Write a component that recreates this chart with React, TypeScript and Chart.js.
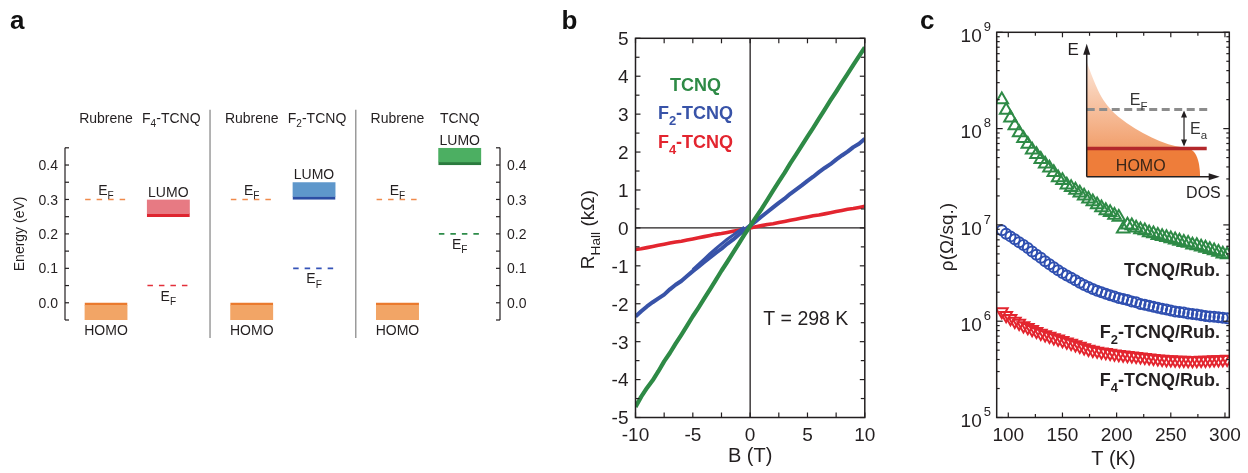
import React, { useEffect, useRef } from 'react';
import { Chart, registerables } from 'chart.js';

Chart.register(...registerables);

const W = 1248;
const H = 473;
const FONT = '"Liberation Sans", Arial, Helvetica, sans-serif';
const INK = '#231f20';
const GREEN = '#2e8a46';
const BLUE = '#3853a8';
const RED = '#e3252f';

/* a: level alignment at the rubrene / acceptor interfaces (eV) */
const acceptors = ['F4-TCNQ', 'F2-TCNQ', 'TCNQ'];
const homoLevel = [0, 0, 0];
const rubreneFermi = [0.3, 0.3, 0.3];
const lumoLevel = [0.25, 0.3, 0.4];
const acceptorFermi = [0.05, 0.1, 0.2];
const energyTicks = [0, 0.1, 0.2, 0.3, 0.4];

/* b: Hall resistance (kOhm) against field (T) at 298 K */
const fieldB = [-10, -9.5, -9, -8.5, -8, -7.5, -7, -6.5, -6, -5.5, -5, -4.5, -4, -3.5, -3, -2.5, -2, -1.5, -1, -0.5, 0,
  0.5, 1, 1.5, 2, 2.5, 3, 3.5, 4, 4.5, 5, 5.5, 6, 6.5, 7, 7.5, 8, 8.5, 9, 9.5, 10];
const hallTCNQ = [-4.72, -4.45, -4.22, -4.02, -3.78, -3.52, -3.3, -3.05, -2.82, -2.58, -2.33, -2.1, -1.86, -1.62, -1.38,
  -1.13, -0.9, -0.66, -0.42, -0.18, 0.05, 0.28, 0.5, 0.74, 0.98, 1.22, 1.45, 1.7, 1.93, 2.17, 2.41, 2.64, 2.88, 3.12,
  3.36, 3.59, 3.83, 4.06, 4.3, 4.53, 4.76];
const hallF2 = [-2.34, -2.2, -2.07, -1.96, -1.86, -1.76, -1.62, -1.5, -1.4, -1.27, -1.14, -1.02, -0.9, -0.78, -0.66,
  -0.55, -0.42, -0.31, -0.18, -0.06, 0.06, 0.18, 0.3, 0.42, 0.54, 0.66, 0.77, 0.9, 1.01, 1.12, 1.24, 1.35, 1.47, 1.58,
  1.68, 1.8, 1.91, 2.01, 2.13, 2.22, 2.35];
const hallF4 = [-0.57, -0.55, -0.52, -0.49, -0.46, -0.43, -0.4, -0.37, -0.35, -0.32, -0.29, -0.26, -0.23, -0.2, -0.17,
  -0.15, -0.12, -0.09, -0.06, -0.03, 0, 0.03, 0.06, 0.09, 0.11, 0.14, 0.17, 0.2, 0.23, 0.26, 0.29, 0.32, 0.34, 0.37,
  0.4, 0.43, 0.46, 0.49, 0.51, 0.54, 0.57];
// second sweep of the F2-TCNQ sample, where it separates from the first one
const fieldBReturn = [-5, -4.5, -4, -3.5, -3, -2.5, -2, -1.5, -1, -0.5];
const hallF2Return = [-1.1, -0.96, -0.82, -0.68, -0.55, -0.42, -0.3, -0.19, -0.08, 0.02];
const fieldTicks = [-10, -5, 0, 5, 10];
const hallTicks = [5, 4, 3, 2, 1, 0, -1, -2, -3, -4, -5];

/* c: sheet resistivity (Ohm/sq.) against temperature (K) */
const temperature = [94, 98, 102, 106, 110, 114, 118, 122, 126, 130, 134, 138, 142, 146, 150, 154, 158, 162, 166, 170,
  174, 178, 182, 186, 190, 194, 198, 202, 206, 210, 214, 218, 222, 226, 230, 234, 238, 242, 246, 250, 254, 258, 262,
  266, 270, 274, 278, 282, 286, 290, 294, 298, 302];
const rhoTCNQ = [2.0e8, 1.55e8, 1.29e8, 1.07e8, 9.1e7, 7.9e7, 6.9e7, 6.0e7, 5.4e7, 4.8e7, 4.3e7, 3.9e7, 3.5e7, 3.1e7,
  2.9e7, 2.6e7, 2.45e7, 2.3e7, 2.15e7, 2.0e7, 1.86e7, 1.74e7, 1.62e7, 1.51e7, 1.41e7, 1.35e7, 1.26e7, 1.2e7, 9.1e6,
  1.0e7, 9.8e6, 9.3e6, 8.9e6, 8.7e6, 8.3e6, 8.1e6, 7.8e6, 7.6e6, 7.4e6, 7.2e6, 7.0e6, 6.8e6, 6.6e6, 6.45e6, 6.2e6,
  6.1e6, 5.9e6, 5.75e6, 5.55e6, 5.4e6, 5.2e6, 5.0e6, 4.9e6];
const rhoF2 = [8.8e6, 8.1e6, 7.6e6, 7.1e6, 6.6e6, 6.2e6, 5.75e6, 5.3e6, 4.9e6, 4.57e6, 4.2e6, 3.9e6, 3.63e6, 3.39e6,
  3.16e6, 2.99e6, 2.82e6, 2.66e6, 2.51e6, 2.37e6, 2.26e6, 2.16e6, 2.07e6, 2.0e6, 1.93e6, 1.86e6, 1.8e6, 1.74e6, 1.7e6,
  1.66e6, 1.6e6, 1.57e6, 1.51e6, 1.48e6, 1.45e6, 1.41e6, 1.38e6, 1.35e6, 1.32e6, 1.29e6, 1.26e6, 1.245e6, 1.23e6,
  1.2e6, 1.19e6, 1.175e6, 1.15e6, 1.135e6, 1.12e6, 1.11e6, 1.1e6, 1.085e6, 1.07e6];
const rhoF4 = [1.26e6, 1.15e6, 1.07e6, 1.0e6, 9.55e5, 9.0e5, 8.6e5, 8.2e5, 7.85e5, 7.5e5, 7.25e5, 7.0e5, 6.75e5, 6.55e5,
  6.3e5, 6.1e5, 5.9e5, 5.7e5, 5.5e5, 5.3e5, 5.13e5, 5.0e5, 4.9e5, 4.79e5, 4.73e5, 4.66e5, 4.57e5, 4.52e5, 4.47e5,
  4.42e5, 4.37e5, 4.32e5, 4.27e5, 4.22e5, 4.17e5, 4.12e5, 4.07e5, 4.03e5, 3.98e5, 3.98e5, 3.95e5, 3.94e5, 3.94e5,
  3.91e5, 3.91e5, 3.91e5, 3.94e5, 3.94e5, 3.95e5, 3.98e5, 3.98e5, 4.0e5, 4.03e5];
const tempTicks = [100, 150, 200, 250, 300];
const rhoDecades = [5, 6, 7, 8, 9];

/* ---------- drawing helpers ---------- */
type Seg = [string, string?];

function rich(ctx: CanvasRenderingContext2D, segs: Seg[], x: number, y: number, size: number,
  align: string = 'center', weight: string = 'normal', color: string = INK) {
  const fontFor = (m?: string) => `${weight} ${m === 'sub' || m === 'sup' ? size * 0.72 : size}px ${FONT}`;
  let total = 0;
  const widths = segs.map(([t, m]) => {
    ctx.font = fontFor(m);
    const w = ctx.measureText(t).width;
    total += w;
    return w;
  });
  let cx = align === 'left' ? x : align === 'right' ? x - total : x - total / 2;
  const base = y + size * 0.36;
  ctx.fillStyle = color;
  ctx.textAlign = 'left';
  ctx.textBaseline = 'alphabetic';
  segs.forEach(([t, m], i) => {
    ctx.font = fontFor(m);
    const dy = m === 'sub' ? size * 0.3 : m === 'sup' ? -size * 0.42 : 0;
    ctx.fillText(t, cx, base + dy);
    cx += widths[i];
  });
}

const text = (ctx: CanvasRenderingContext2D, s: string, x: number, y: number, size: number,
  align = 'center', weight = 'normal', color = INK) => rich(ctx, [[s]], x, y, size, align, weight, color);

// "F4-TCNQ" -> F, subscript 4, -TCNQ
const chem = (name: string): Seg[] => {
  const m = name.match(/^F(\d)(.*)$/);
  return m ? [['F'], [m[1], 'sub'], [m[2]]] : [[name]];
};

function seg(ctx: CanvasRenderingContext2D, x1: number, y1: number, x2: number, y2: number) {
  ctx.beginPath();
  ctx.moveTo(x1, y1);
  ctx.lineTo(x2, y2);
  ctx.stroke();
}

function rotated(ctx: CanvasRenderingContext2D, x: number, y: number, draw: () => void) {
  ctx.save();
  ctx.translate(x, y);
  ctx.rotate(-Math.PI / 2);
  draw();
  ctx.restore();
}

function panelLetter(ctx: CanvasRenderingContext2D, s: string, x: number, y: number) {
  ctx.font = `bold 26px ${FONT}`;
  ctx.fillStyle = '#111';
  ctx.textAlign = 'left';
  ctx.textBaseline = 'alphabetic';
  ctx.fillText(s, x, y);
}

const baseOptions = (padding: any) => ({
  responsive: false,
  animation: false,
  devicePixelRatio: 1,
  events: [],
  layout: { padding },
  plugins: { legend: { display: false }, tooltip: { enabled: false }, title: { display: false } },
});

/* ---------- a: energy-level diagram ---------- */
const SPACING = 3.35; // one rubrene / acceptor pair on the x scale
const RUB = 0.943;
const ACC = 2.375;
const HALF = 0.48;
const BOX = 0.05;
const rubX = (i: number) => i * SPACING + RUB;
const accX = (i: number) => i * SPACING + ACC;
const lumoFill = ['#e77a83', '#5e97cb', '#4caf62'];
const lumoEdge = ['#de2530', '#2b4da4', '#2a7a3e'];
const fermiColor = ['#e3303b', '#3553b8', '#2e8c4a'];

const levelsDecor = {
  id: 'levelsDecor',
  afterDraw(chart: any) {
    const { ctx, chartArea: ca, scales } = chart;
    const px = (v: number) => scales.x.getPixelForValue(v);
    const py = (v: number) => scales.y.getPixelForValue(v);
    const top = py(0.45);
    const bot = py(-0.05);
    ctx.save();
    ctx.strokeStyle = INK;
    ctx.lineWidth = 1.2;
    [ca.left, ca.right].forEach((ax: number, side: number) => {
      seg(ctx, ax, top, ax, bot);
      const dir = side === 0 ? 1 : -1;
      for (let k = -1; k <= 9; k++) {
        const yy = py(k * 0.05);
        seg(ctx, ax, yy, ax + dir * 4, yy);
      }
    });
    energyTicks.forEach((v) => {
      text(ctx, v.toFixed(1), ca.left - 7, py(v), 14, 'right');
      text(ctx, v.toFixed(1), ca.right + 7, py(v), 14, 'left');
    });
    rotated(ctx, 19, (top + bot) / 2, () => text(ctx, 'Energy (eV)', 0, 0, 14));

    ctx.strokeStyle = '#9b9b9b';
    ctx.lineWidth = 1.5;
    for (let i = 1; i < acceptors.length; i++) {
      const sx = px((accX(i - 1) + rubX(i)) / 2);
      seg(ctx, sx, top - 38, sx, bot + 18);
    }

    acceptors.forEach((name, i) => {
      const rx = px(rubX(i));
      const ax = px(accX(i));
      text(ctx, 'Rubrene', rx, top - 30, 14);
      rich(ctx, chem(name), ax + (name.startsWith('F') ? 3 : 0), top - 30, 14);
      rich(ctx, [['E'], ['F', 'sub']], rx, py(rubreneFermi[i]) - 10, 14);
      text(ctx, 'HOMO', rx, py(homoLevel[i] - BOX) + 10, 14);
      text(ctx, 'LUMO', ax, py(lumoLevel[i] + BOX) - 8, 14);
      rich(ctx, [['E'], ['F', 'sub']], ax, py(acceptorFermi[i]) + 10, 14);
    });
    panelLetter(ctx, 'a', 10, 29);
    ctx.restore();
  },
};

function levelsConfig() {
  const dash = (x: number, y: number, color: string) => ({
    type: 'line',
    data: [{ x: x - HALF, y }, { x: x + HALF, y }],
    borderColor: color,
    borderWidth: 1.6,
    borderDash: [5.5, 6],
    pointRadius: 0,
  });
  return {
    type: 'bar',
    data: {
      datasets: [
        {
          type: 'bar',
          data: homoLevel.map((e, i) => ({ x: rubX(i), y: [e - BOX, e] })),
          backgroundColor: '#f2a566',
          borderColor: '#ea7a2e',
          borderWidth: { top: 2.5, right: 0, bottom: 0, left: 0 },
          borderSkipped: false,
          barThickness: 43,
          grouped: false,
        },
        {
          type: 'bar',
          data: lumoLevel.map((e, i) => ({ x: accX(i), y: [e, e + BOX] })),
          backgroundColor: lumoFill,
          borderColor: lumoEdge,
          borderWidth: { top: 0, right: 0, bottom: 3, left: 0 },
          borderSkipped: false,
          barThickness: 43,
          grouped: false,
        },
        ...rubreneFermi.map((e, i) => dash(rubX(i), e, '#f08a4b')),
        ...acceptorFermi.map((e, i) => dash(accX(i), e, fermiColor[i])),
      ],
    },
    options: {
      ...baseOptions({ left: 65, right: 748, top: 147.8, bottom: 153 }),
      scales: {
        x: { type: 'linear', min: 0, max: 10, display: false, offset: false },
        y: { type: 'linear', min: -0.05, max: 0.45, display: false },
      },
    },
    plugins: [levelsDecor],
  };
}

/* ---------- b: Hall resistance ---------- */
const hallDecor = {
  id: 'hallDecor',
  beforeDatasetsDraw(chart: any) {
    const { ctx, chartArea: ca, scales } = chart;
    const x0 = scales.x.getPixelForValue(0);
    const y0 = scales.y.getPixelForValue(0);
    ctx.save();
    ctx.strokeStyle = INK;
    ctx.lineWidth = 1.3;
    seg(ctx, x0, ca.top, x0, ca.bottom);
    seg(ctx, ca.left, y0, ca.right, y0);
    ctx.restore();
  },
  afterDraw(chart: any) {
    const { ctx, chartArea: ca, scales } = chart;
    const px = (v: number) => scales.x.getPixelForValue(v);
    const py = (v: number) => scales.y.getPixelForValue(v);
    ctx.save();
    ctx.strokeStyle = INK;
    ctx.lineWidth = 1.5;
    ctx.strokeRect(ca.left, ca.top, ca.width, ca.height);
    ctx.lineWidth = 1.2;
    for (let k = -10; k <= 10; k++) {
      const yy = py(k / 2);
      const len = k % 2 === 0 ? 5 : 4;
      seg(ctx, ca.left, yy, ca.left + len, yy);
      seg(ctx, ca.right, yy, ca.right - len, yy);
    }
    for (let k = -4; k <= 4; k++) {
      const xx = px(k * 2.5);
      seg(ctx, xx, ca.top, xx, ca.top + 5);
      seg(ctx, xx, ca.bottom, xx, ca.bottom - 5);
    }
    hallTicks.forEach((v) => text(ctx, String(v), ca.left - 7, py(v), 19, 'right'));
    fieldTicks.forEach((v) => text(ctx, String(v), px(v), ca.bottom + 17, 19));
    text(ctx, 'B (T)', px(0), 455, 20);
    rotated(ctx, 587.5, 229.7, () => rich(ctx, [['R'], ['Hall', 'sub'], [' (kΩ)']], 0, 0, 19));

    const legend: [string, string, number][] = [
      [acceptors[2], GREEN, 85],
      [acceptors[1], BLUE, 113],
      [acceptors[0], RED, 141.7],
    ];
    legend.forEach(([name, color, yy]) => rich(ctx, chem(name), 695.5, yy, 18, 'center', 'bold', color));
    text(ctx, 'T = 298 K', 805.8, 318.3, 19.5);
    panelLetter(ctx, 'b', 561.5, 29);
    ctx.restore();
  },
};

function hallConfig() {
  const line = (xs: number[], ys: number[], color: string, width: number, order: number) => ({
    data: xs.map((b, i) => ({ x: b, y: ys[i] })),
    borderColor: color,
    borderWidth: width,
    pointRadius: 0,
    tension: 0,
    borderJoinStyle: 'round',
    clip: 0,
    order,
  });
  return {
    type: 'line',
    data: {
      datasets: [
        line(fieldB, hallTCNQ, GREEN, 4.2, 0),
        line(fieldB, hallF2, BLUE, 4, 1),
        line(fieldBReturn, hallF2Return, BLUE, 3, 1),
        line(fieldB, hallF4, RED, 3.6, 2),
      ],
    },
    options: {
      ...baseOptions({ left: 635.5, right: 383.2, top: 38.3, bottom: 55.5 }),
      scales: {
        x: { type: 'linear', min: -10, max: 10, display: false },
        y: { type: 'linear', min: -5, max: 5, display: false },
      },
    },
    plugins: [hallDecor],
  };
}

/* ---------- c: resistivity with inset DOS sketch ---------- */
function drawInset(ctx: CanvasRenderingContext2D, ca: any) {
  const ox = ca.left + 0.387 * ca.width;
  const oy = ca.top + 0.375 * ca.height;
  const L = 133;
  const X = (u: number) => ox + u;
  const Y = (v: number) => oy - v;
  const homo = 28.3;
  const fermi = 67.3;
  const tail = [[0, 115], [10, 86.7], [23.3, 66.7], [40, 53.3], [56.7, 43.3], [73.3, 35], [90, 30], [104, 28.3]];

  const g = ctx.createLinearGradient(0, Y(115), 0, Y(homo));
  g.addColorStop(0, '#fde6d8');
  g.addColorStop(1, '#f19f6c');
  ctx.beginPath();
  ctx.moveTo(X(0), Y(homo));
  ctx.lineTo(X(tail[0][0]), Y(tail[0][1]));
  for (let i = 1; i < tail.length - 1; i++) {
    const mx = (tail[i][0] + tail[i + 1][0]) / 2;
    const my = (tail[i][1] + tail[i + 1][1]) / 2;
    ctx.quadraticCurveTo(X(tail[i][0]), Y(tail[i][1]), X(mx), Y(my));
  }
  ctx.lineTo(X(tail[tail.length - 1][0]), Y(tail[tail.length - 1][1]));
  ctx.closePath();
  ctx.fillStyle = g;
  ctx.fill();

  ctx.beginPath();
  ctx.moveTo(X(0), Y(0));
  ctx.lineTo(X(0), Y(homo));
  ctx.lineTo(X(100), Y(homo));
  ctx.bezierCurveTo(X(110), Y(homo), X(113.3), Y(14), X(113.3), Y(0));
  ctx.closePath();
  ctx.fillStyle = '#ee7d3a';
  ctx.fill();

  ctx.strokeStyle = '#b3282b';
  ctx.lineWidth = 3.5;
  seg(ctx, X(0), Y(homo), X(120), Y(homo));

  ctx.save();
  ctx.strokeStyle = '#8c8c8c';
  ctx.lineWidth = 3;
  ctx.setLineDash([8, 4.5]);
  seg(ctx, X(0), Y(fermi), X(122), Y(fermi));
  ctx.restore();

  // activation-energy double arrow
  const ax = X(97.3);
  ctx.strokeStyle = INK;
  ctx.fillStyle = INK;
  ctx.lineWidth = 1.2;
  seg(ctx, ax, Y(fermi) + 4, ax, Y(homo) - 4);
  const head = (tipY: number, dir: number) => {
    ctx.beginPath();
    ctx.moveTo(ax, tipY);
    ctx.lineTo(ax - 3, tipY + dir * 7);
    ctx.lineTo(ax + 3, tipY + dir * 7);
    ctx.closePath();
    ctx.fill();
  };
  head(Y(fermi) + 1, 1);
  head(Y(homo) - 2, -1);

  // axes with arrowheads
  ctx.lineWidth = 1.5;
  seg(ctx, X(0), Y(0), X(0), Y(L - 8));
  seg(ctx, X(0), Y(0), X(L - 8), Y(0));
  ctx.beginPath();
  ctx.moveTo(X(0), Y(L));
  ctx.lineTo(X(-3.5), Y(L - 11));
  ctx.lineTo(X(3.5), Y(L - 11));
  ctx.closePath();
  ctx.fill();
  ctx.beginPath();
  ctx.moveTo(X(L), Y(0));
  ctx.lineTo(X(L - 11), Y(3.5));
  ctx.lineTo(X(L - 11), Y(-3.5));
  ctx.closePath();
  ctx.fill();

  text(ctx, 'E', X(-13.5), Y(127.5), 17);
  text(ctx, 'DOS', X(116.7), Y(-15.7), 16);
  rich(ctx, [['E'], ['F', 'sub']], X(52), Y(77.7), 16, 'center', 'normal', '#333');
  rich(ctx, [['E'], ['a', 'sub']], X(103.3), Y(48.3), 16, 'left', 'normal', '#333');
  text(ctx, 'HOMO', X(54), Y(11.7), 16, 'center', 'normal', '#3a2618');
}

const rhoDecor = {
  id: 'rhoDecor',
  afterDraw(chart: any) {
    const { ctx, chartArea: ca, scales } = chart;
    const px = (v: number) => scales.x.getPixelForValue(v);
    const py = (v: number) => scales.y.getPixelForValue(v);
    ctx.save();
    ctx.strokeStyle = INK;
    ctx.lineWidth = 1.5;
    ctx.strokeRect(ca.left, ca.top, ca.width, ca.height);
    ctx.lineWidth = 1.2;
    rhoDecades.forEach((d) => {
      const yy = py(Math.pow(10, d));
      seg(ctx, ca.left, yy, ca.left + 6, yy);
      seg(ctx, ca.right, yy, ca.right - 6, yy);
      if (d < rhoDecades[rhoDecades.length - 1]) {
        for (let m = 2; m <= 9; m++) {
          const ym = py(m * Math.pow(10, d));
          seg(ctx, ca.left, ym, ca.left + 3, ym);
          seg(ctx, ca.right, ym, ca.right - 3, ym);
        }
      }
    });
    for (let t = 100; t <= 300; t += 25) {
      const xx = px(t);
      const len = t % 50 === 0 ? 5 : 3.5;
      seg(ctx, xx, ca.top, xx, ca.top + len);
      seg(ctx, xx, ca.bottom, xx, ca.bottom - len);
    }
    rhoDecades.forEach((d) => {
      const yy = py(Math.pow(10, d));
      text(ctx, '10', ca.left - 15, yy + 3, 19, 'right');
      text(ctx, String(d), ca.left - 13, yy - 6, 13, 'left');
    });
    tempTicks.forEach((t) => text(ctx, String(t), px(t), ca.bottom + 16.5, 19));
    text(ctx, 'T (K)', 1113.4, 458, 20);
    rotated(ctx, 946.5, 237, () => text(ctx, 'ρ(Ω/sq.)', 0, 0, 19));

    const labels: [string, number][] = [
      [acceptors[2], 270],
      [acceptors[1], 331.7],
      [acceptors[0], 380],
    ];
    labels.forEach(([name, yy]) => rich(ctx, chem(name + '/Rub.'), 1220, yy, 18, 'right', 'bold', INK));

    drawInset(ctx, ca);
    panelLetter(ctx, 'c', 920, 28.5);
    ctx.restore();
  },
};

function rhoConfig() {
  const series = (ys: number[], color: string, style: string, radius: number, rotation: number) => ({
    data: temperature.map((t, i) => ({ x: t, y: ys[i] })),
    showLine: false,
    borderColor: color,
    backgroundColor: 'rgba(0,0,0,0)',
    pointStyle: style,
    pointRadius: radius,
    pointBorderWidth: 2,
    pointBorderColor: color,
    pointBackgroundColor: 'rgba(0,0,0,0)',
    pointRotation: rotation,
  });
  return {
    type: 'line',
    data: {
      datasets: [
        series(rhoTCNQ, GREEN, 'triangle', 7.2, 0),
        series(rhoF2, '#2f4fb0', 'circle', 5, 0),
        series(rhoF4, RED, 'triangle', 6.8, 180),
      ],
    },
    options: {
      ...baseOptions({ left: 996.7, right: 18.7, top: 32.3, bottom: 55.5 }),
      scales: {
        x: { type: 'linear', min: 89.3, max: 304, display: false },
        y: { type: 'logarithmic', min: 1e5, max: 1e9, display: false },
      },
    },
    plugins: [rhoDecor],
  };
}

/* ---------- page ---------- */
function ChartCanvas({ make }: { make: () => any }) {
  const ref = useRef<HTMLCanvasElement | null>(null);
  useEffect(() => {
    const chart = new Chart(ref.current as HTMLCanvasElement, make());
    return () => chart.destroy();
  }, []);
  return (
    <canvas
      ref={ref}
      width={W}
      height={H}
      style={{ position: 'absolute', left: 0, top: 0, width: W, height: H }}
    />
  );
}

export default function App() {
  return (
    <div style={{ position: 'fixed', left: 0, top: 0, width: W, height: H, background: '#fff', overflow: 'hidden' }}>
      <ChartCanvas make={levelsConfig} />
      <ChartCanvas make={hallConfig} />
      <ChartCanvas make={rhoConfig} />
    </div>
  );
}
